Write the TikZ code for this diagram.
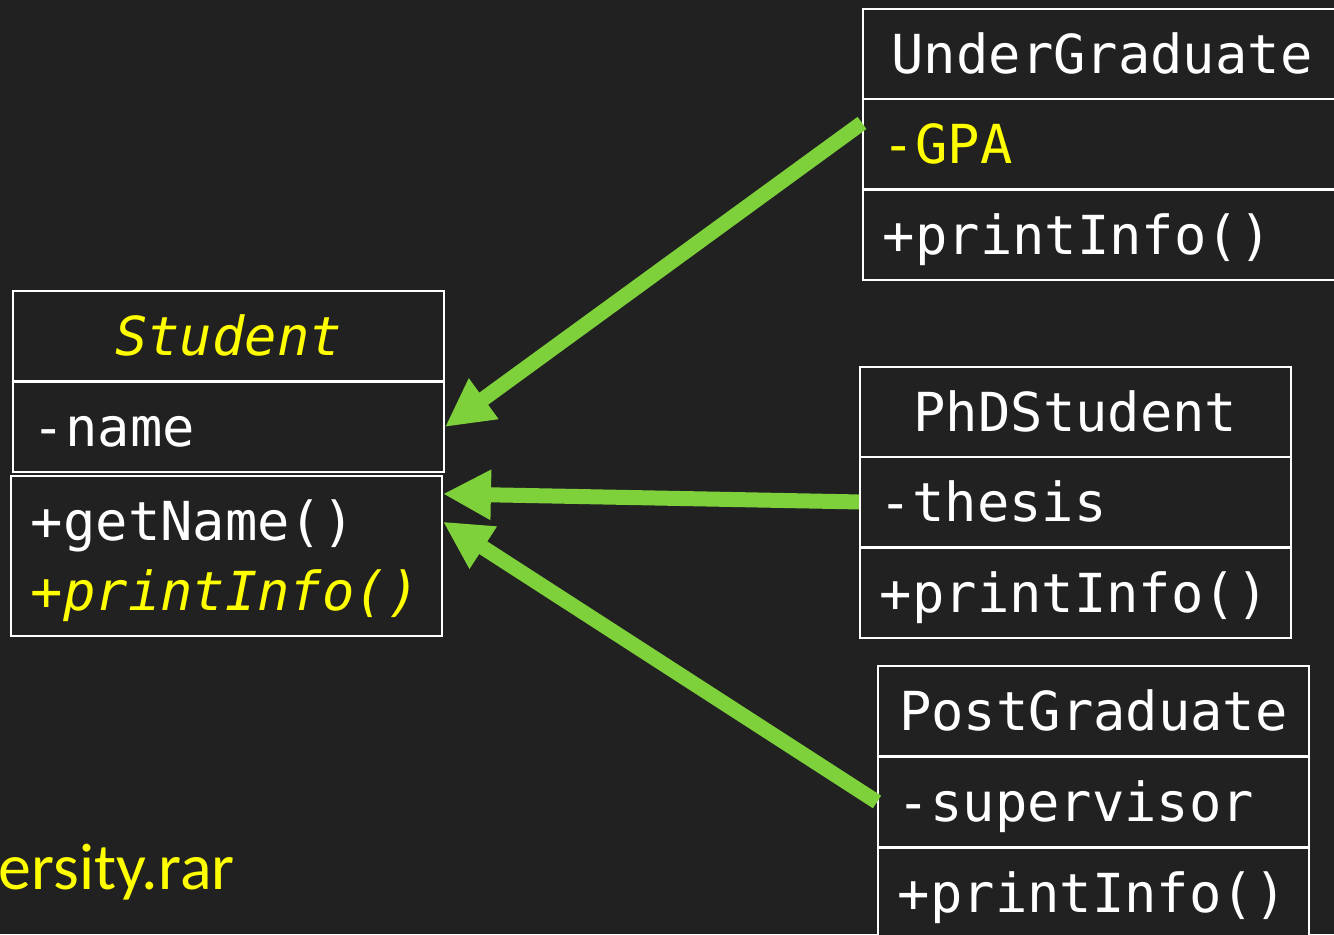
\documentclass[tikz,border=0pt]{standalone}
\usepackage{fontspec}
\setmonofont{DejaVu Sans Mono}
\newfontfamily\notefont{Carlito}
\usetikzlibrary{arrows.meta}

\definecolor{bgdark}{RGB}{33,33,33}
\definecolor{arrowgreen}{RGB}{126,209,58}
\definecolor{hilite}{RGB}{255,255,0}
\newcommand\umlfont{\ttfamily\fontsize{30.6pt}{39.7pt}\selectfont}

\tikzset{
  compart/.style={draw=white, line width=1.1pt, fill=bgdark, anchor=north west,
    inner xsep=0.4cm, inner ysep=0pt, minimum width=8.62cm, minimum height=1.8cm,
    text width=7.82cm, align=left, text=white, font=\umlfont,
    text height=0.78cm, text depth=0pt},
  classhead/.style={compart, align=center},
  wide/.style={minimum width=9.56cm, text width=8.76cm},
  inherits/.style={draw=arrowgreen, line width=0.3cm,
    -{Triangle[length=0.96cm, width=0.94cm]}},
}

\begin{document}
\begin{tikzpicture}

\def\W{26.68}
\def\H{18.68}
\def\xS{0.24}
\def\xU{17.24}
\def\xP{17.18}
\def\xG{17.54}

\fill[bgdark] (0,0) rectangle (\W,\H);
\useasboundingbox (0,0) rectangle (\W,\H);

\node[classhead, font=\umlfont\itshape, text=hilite] (stHead) at (\xS,12.88) {Student};
\node[compart] (stAttr) at (\xS,11.06) {-name};
\node[compart, minimum height=3.2cm, text depth=1.4cm] (stMeth) at (0.20,9.18)
  {+getName()\\{\color{hilite}\itshape +printInfo()}};

\node[classhead, wide] (ugHead) at (\xU,18.52) {UnderGraduate};
\node[compart, wide, text=hilite] (ugAttr) at (\xU,16.72) {-GPA};
\node[compart, wide] (ugMeth) at (\xU,14.90) {+printInfo()};

\node[classhead] (phdHead) at (\xP,11.36) {PhDStudent};
\node[compart] (phdAttr) at (\xP,9.56) {-thesis};
\node[compart] (phdMeth) at (\xP,7.74) {+printInfo()};

\node[classhead] (pgHead) at (\xG,5.38) {PostGraduate};
\node[compart] (pgAttr) at (\xG,3.56) {-supervisor};
\node[compart] (pgMeth) at (\xG,1.74) {+printInfo()};

\draw[inherits] (ugAttr.175) -- (stAttr.east);
\draw[inherits] (phdAttr.west) -- (stMeth.16);
\draw[inherits] (pgAttr.west) -- (stMeth.9);

\node[font=\notefont\fontsize{37.5pt}{45pt}\selectfont, text=hilite, anchor=base west,
  inner sep=0pt] (rarNote) at (-0.03,0.9) {ersity.rar};

\end{tikzpicture}
\end{document}
